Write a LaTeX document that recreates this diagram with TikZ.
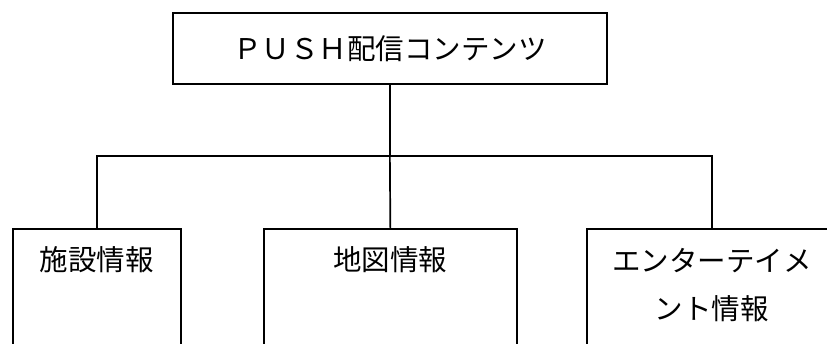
\documentclass[tikz,border=0pt]{standalone}
\usepackage{fontspec}
\newfontfamily\jp{Noto Sans CJK JP}
\begin{document}
\begin{tikzpicture}[x=1pt,y=-1pt,
  box/.style={draw=black, line width=1.7pt, rectangle, inner sep=0pt, anchor=north west},
  txt/.style={font=\jp\fontsize{28.5}{48}\selectfont, inner sep=0pt, align=center},
  conn/.style={draw=black, line width=1.7pt}]
\clip (0,0) rectangle (827,343);
\fill[white] (0,0) rectangle (827,343);
\node[box, minimum width=434pt, minimum height=71pt] (top) at (172,12) {};
\node[txt] (toptxt) at (top.center) {ＰＵＳＨ配信コンテンツ};
\node[box, minimum width=168pt, minimum height=150pt] (b1) at (12,228) {};
\node[box, minimum width=253pt, minimum height=150pt] (b2) at (263,228) {};
\node[box, minimum width=250pt, minimum height=150pt] (b3) at (586,228) {};
\node[txt, anchor=center] (t1) at ([yshift=-32pt]b1.north) {施設情報};
\node[txt, anchor=center] (t2) at ([yshift=-32pt]b2.north) {地図情報};
\node[txt, anchor=north] (t3) at ([yshift=-20pt]b3.north) {エンターテイメ\\ント情報};
\coordinate (j) at (top.south |- 0,156);
\draw[conn] (top.south) -- (j);
\draw[conn] (j) -| (b1.north);
\draw[conn] (j) -- (b2.north);
\draw[conn] (j) -| (b3.north);
\end{tikzpicture}
\end{document}
